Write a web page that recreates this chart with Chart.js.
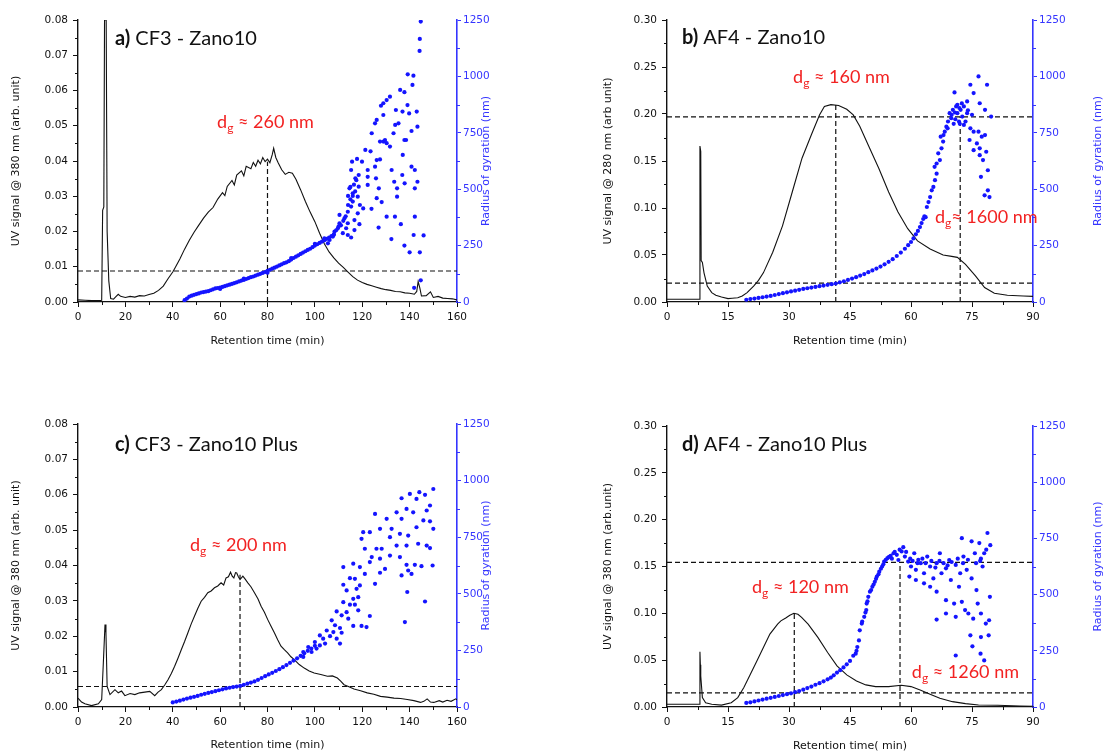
<!DOCTYPE html>
<html>
<head>
<meta charset="utf-8">
<script src="https://cdn.jsdelivr.net/npm/chart.js@4/dist/chart.umd.min.js"></script>
<style>
  body { margin: 0; background: #ffffff; width: 1104px; height: 753px; position: relative; overflow: hidden; }
  .panel { position: absolute; width: 552px; }
  .top { top: 0; height: 376px; }
  .bottom { top: 376px; height: 377px; }
</style>
</head>
<body>
<div class="panel top" style="left:0"><canvas id="chartA"></canvas></div>
<div class="panel top" style="left:552px"><canvas id="chartB"></canvas></div>
<div class="panel bottom" style="left:0"><canvas id="chartC"></canvas></div>
<div class="panel bottom" style="left:552px"><canvas id="chartD"></canvas></div>
<script>
const palette = {
  black: "#111111",
  dots: "#1414ff",
  axisBlue: "#3535ff",
  red: "#f22222"
};

// tick values
const timeTicksCF3 = [0, 20, 40, 60, 80, 100, 120, 140, 160];
const timeTicksAF4 = [0, 15, 30, 45, 60, 75, 90];
const uvTicksCF3 = [0, 0.01, 0.02, 0.03, 0.04, 0.05, 0.06, 0.07, 0.08];
const uvTicksAF4 = [0, 0.05, 0.1, 0.15, 0.2, 0.25, 0.3];
const rgTicks = [0, 250, 500, 750, 1000, 1250];

// a) CF3 - Zano10 : UV signal [min, signal]
const uvA = [[0,0.0006],[3,0.0005],[6,0.0004],[9,0.0004],[10,0.0005],[10.4,0.026],[10.9,0.027],[11.2,0.08],[11.9,0.08],[12.3,0.02],[13,0.006],[13.8,0.001],[15,0.0008],[16,0.0015],[17,0.0022],[18,0.0016],[20,0.0013],[22,0.0016],[24,0.0014],[26,0.0018],[28,0.0017],[30,0.0021],[32,0.0025],[34,0.0033],[36,0.0045],[38,0.0066],[40,0.0085],[41,0.0097],[43,0.0122],[45,0.015],[47,0.0175],[49,0.0198],[51,0.0218],[53,0.0238],[55,0.0255],[57,0.0268],[59,0.0292],[61,0.031],[62,0.0302],[63,0.0328],[65,0.0345],[66,0.0332],[67,0.036],[69,0.0372],[70,0.0358],[71,0.0385],[73,0.0378],[74,0.0396],[75,0.0385],[76,0.0402],[77,0.0392],[78,0.041],[79,0.0398],[80,0.0405],[81,0.0395],[82,0.0418],[82.6,0.0436],[83.5,0.041],[84.5,0.0395],[86,0.0375],[87.5,0.0362],[89,0.0368],[90.5,0.0365],[92,0.0348],[94,0.0318],[96,0.0285],[98,0.0255],[100,0.0228],[102,0.0195],[104,0.0165],[106,0.0142],[108,0.0125],[110,0.011],[112,0.0098],[114,0.0085],[116,0.0072],[118,0.0062],[120,0.0055],[122,0.005],[124,0.0046],[126,0.0042],[128,0.0038],[130,0.0035],[132,0.0033],[134,0.003],[136,0.0029],[138,0.0026],[140,0.0025],[142,0.0022],[143,0.003],[143.6,0.0058],[144.3,0.004],[145,0.0017],[147,0.0018],[148.8,0.0029],[150,0.0013],[152,0.0016],[154,0.0011],[156,0.001],[158,0.0009],[160,0.0006]];
// radius of gyration [min, nm]
const rgBandA = [[45,8],[46,15],[47,24],[48,28],[49,32],[50,35],[51,38],[52,42],[53,44],[54,46],[55,48],[56,52],[57,56],[58,60],[59,62],[60,64],[61,67],[62,70],[63,74],[64,77],[65,80],[66,84],[67,87],[68,91],[69,95],[70,98],[71,102],[72,106],[73,110],[74,113],[75,117],[76,121],[77,125],[78,129],[79,133],[80,138],[81,143],[82,148],[83,152],[84,157],[85,162],[86,167],[87,172],[88,176],[89,181],[90,188],[91,195],[92,201],[93,207],[94,213],[95,219],[96,225],[97,231],[98,236],[99,243],[100,250],[101,256],[102,262],[103,268],[104,274],[105,280],[106,286],[107,292],[108,298],[60,58],[70,104],[80,130],[90,195],[100,258],[104,282]];
const rgCloudA = [[144.7,1243],[144.3,1166],[144.2,1113],[139.2,1009],[141.6,1003],[141.2,962],[136,940],[137.8,930],[131.7,910],[130.3,895],[128.9,881],[127.9,870],[134.2,851],[139.1,873],[137,844],[139.8,836],[143,844],[128.9,829],[126.1,807],[125.4,792],[135.3,792],[133.9,785],[143.3,777],[140.8,758],[124,748],[133.2,748],[128.9,711],[130.3,704],[127.5,711],[129.6,718],[131.7,689],[138.5,718],[137.8,718],[121.3,674],[123.5,668],[137.1,652],[117.8,634],[115.7,622],[119.9,622],[126.1,629],[127.5,632],[140.8,600],[142.2,585],[115.3,585],[122.3,585],[125.4,600],[132.4,585],[118.5,563],[122.3,555],[125.8,548],[136.9,563],[117.1,548],[133.5,533],[143.3,533],[137.9,526],[122.3,519],[114.6,504],[118.5,511],[127,504],[134.7,504],[142.2,504],[116,482],[118.1,467],[134.7,467],[126.1,460],[116,445],[128.2,443],[119,430],[115.3,423],[120.4,415],[123.9,413],[113.9,400],[118.1,393],[110.4,386],[130.3,378],[133.8,378],[142.2,378],[112.5,371],[116.7,363],[110.4,349],[113.9,349],[118.8,345],[136.3,345],[109.7,327],[113.2,327],[116.7,319],[126.9,330],[108.3,312],[111.8,305],[113.9,297],[107.6,290],[141.7,297],[145.9,295],[106.2,275],[132.3,279],[115.3,286],[105.5,260],[137.8,250],[140,220],[144.3,220],[144.7,96],[141.9,63],[114,430],[115,455],[116,470],[117,490],[116.5,520],[117.5,540],[115,510],[114,470],[113,380],[111,340],[112,360],[109,318],[108,300],[110,335]];
const levelsA = [0.0088];
const dropsA = [[80, 0.0398]];

// b) AF4 - Zano10
const uvB = [[0,0.003],[4,0.003],[8,0.003],[8.1,0.166],[8.3,0.16],[8.4,0.044],[8.7,0.042],[9.1,0.031],[9.9,0.017],[11,0.01],[12,0.0072],[13.4,0.0054],[15,0.0036],[16,0.004],[17.4,0.0046],[18.5,0.0065],[19.7,0.01],[21.3,0.017],[22.5,0.023],[23.7,0.031],[26,0.053],[28.4,0.081],[30.8,0.117],[33.2,0.153],[35.5,0.178],[37.5,0.199],[38.7,0.208],[40.3,0.21],[42.2,0.209],[44.2,0.205],[45.8,0.199],[47.4,0.187],[49.7,0.165],[52.1,0.142],[54.5,0.117],[56.8,0.0957],[59.2,0.078],[61.6,0.065],[64.7,0.0564],[67.9,0.05],[70,0.0485],[71.4,0.0475],[73.4,0.04],[75.8,0.028],[78.1,0.0154],[80.5,0.0093],[83.7,0.0071],[87.6,0.0064],[90,0.006]];
const rgBandB = [[19.5,10],[20.5,13],[21.5,15],[22.5,18],[23.5,21],[24.5,24],[25.5,27],[26.5,31],[27.5,35],[28.5,39],[29.5,43],[30.5,47],[31.5,50],[32.5,54],[33.5,58],[34.5,61],[35.5,64],[36.5,67],[37.5,70],[38.5,73],[39.5,76],[40.5,79],[41.5,82],[42.5,87],[43.5,92],[44.5,98],[45.5,104],[46.5,110],[47.5,117],[48.5,124],[49.5,132],[50.5,140],[51.5,148],[52.5,157],[53.5,167],[54.5,178],[55.5,190],[56.5,204],[57.5,219],[58.5,236],[59.3,252],[60,266],[60.6,282],[61.2,300],[61.7,315],[62.2,332],[62.6,350],[63,368],[63.3,380]];
const rgCloudB = [[63.6,376],[63.9,421],[64.3,443],[64.7,465],[65.1,495],[65.5,510],[65.9,540],[66.3,569],[65.8,599],[66.3,614],[67.1,629],[66.7,659],[67.5,681],[67.9,711],[67.3,733],[68.3,755],[68.7,777],[69.1,800],[69.5,837],[70.3,852],[69.9,815],[71.1,867],[71.4,837],[72.2,852],[72.6,822],[73,867],[73.4,800],[73.8,837],[70.7,929],[74.6,963],[75.4,926],[76.6,1000],[78.7,963],[76.9,881],[78.2,852],[79.7,822],[74.6,770],[75.4,755],[76.6,755],[77.4,733],[78.2,740],[74.4,718],[76.2,703],[76.9,681],[75.4,673],[78.5,666],[76.9,651],[77.7,629],[78.9,584],[77.2,555],[78.9,495],[78.1,473],[79.3,465],[71.4,874],[73,785],[71.8,800],[73.8,889],[70.8,840],[72.5,880],[71.9,860],[70,830],[70.9,810],[72,790],[74,850],[75,830],[68,740],[69,770],[70.5,790]];
const levelsB = [0.197, 0.02];
const dropsB = [[41.5, 0.21], [72.1, 0.197]];

// c) CF3 - Zano10 Plus
const uvC = [[0,0.0025],[1.5,0.0014],[2.9,0.0009],[5.7,0.0004],[8.6,0.0009],[10,0.0021],[10.7,0.0125],[11.4,0.0233],[11.8,0.021],[12.3,0.0058],[13.5,0.0035],[15.6,0.0049],[17,0.004],[18.4,0.0045],[19.8,0.0032],[22,0.0038],[24,0.0035],[26,0.004],[28.2,0.0042],[30.3,0.0044],[32.4,0.0032],[33.8,0.0042],[35.2,0.0049],[36.6,0.0062],[38,0.0077],[39.4,0.0095],[40.8,0.0115],[42.2,0.0138],[43.6,0.0162],[45,0.0185],[46.4,0.021],[47.8,0.0235],[49.2,0.0257],[50.6,0.0279],[52,0.0299],[53.4,0.031],[54.8,0.0323],[56.2,0.0328],[57.6,0.0337],[59,0.0342],[60.4,0.0351],[61.5,0.0345],[62.5,0.0365],[63.5,0.0368],[64.4,0.0381],[65.1,0.037],[65.8,0.0365],[66.5,0.038],[67,0.0379],[67.7,0.0368],[68.4,0.036],[69.6,0.037],[70.5,0.0362],[71.7,0.0351],[73,0.034],[74.5,0.0323],[76,0.0305],[77.3,0.0285],[78.7,0.0268],[80.1,0.0247],[81.5,0.0228],[82.9,0.021],[84.3,0.019],[85.7,0.0172],[87.1,0.0162],[88.5,0.0153],[89.9,0.0142],[91.3,0.0134],[93.4,0.012],[95.5,0.011],[97.6,0.0102],[99.7,0.0096],[102.5,0.0092],[105.3,0.0087],[107.4,0.0088],[109.5,0.0082],[110.9,0.0073],[112.3,0.0063],[114.4,0.0057],[116.5,0.0051],[119.3,0.0046],[122.1,0.004],[124.9,0.0036],[127.7,0.003],[130.5,0.0028],[133.4,0.0025],[136.2,0.0024],[139,0.0021],[141.8,0.0018],[144.6,0.0013],[146,0.0016],[147.4,0.0023],[148.8,0.0014],[150.2,0.0013],[152.5,0.0018],[154,0.0014],[155.8,0.0019],[157.5,0.0016],[159.5,0.0023],[160,0.002]];
const rgBandC = [[40,20],[41.5,24],[43,28],[44.5,33],[46,37],[47.5,41],[49,45],[50.5,49],[52,54],[53.5,58],[55,62],[56.5,66],[58,70],[59.5,74],[61,78],[62.5,82],[64,85],[65.5,88],[67,90],[68.5,93],[70,98],[71.5,103],[73,108],[74.5,113],[76,120],[77.5,128],[79,136],[80.5,144],[82,151],[83.5,159],[85,167],[86.5,176],[88,185],[89.5,195],[91,205],[92.5,215],[94,226],[95.5,237],[97,248],[98.5,258],[100,270]];
const rgCloudC = [[150,963],[144.1,949],[140.1,941],[146.5,937],[136.6,922],[142.9,919],[148.6,890],[147.2,868],[138.7,875],[141.5,860],[134.5,860],[125.4,853],[130.3,831],[136.6,831],[145.8,824],[148.6,820],[127.5,787],[120.4,772],[123.2,772],[132.4,787],[142.9,794],[150,787],[135.9,765],[131.7,750],[139.4,757],[119.7,743],[134.5,713],[147.2,713],[143.6,721],[138.7,713],[121.1,699],[126,699],[128.2,699],[124,662],[131.7,669],[135.9,662],[148.6,702],[127.5,655],[116.2,633],[119,618],[123.2,640],[129.6,610],[138.7,628],[142.2,628],[145,622],[149.7,625],[112,618],[139.4,603],[121.1,588],[127.5,593],[136.6,581],[140.8,588],[116.9,566],[114.8,569],[125.4,544],[112,540],[119,537],[117.6,522],[113.4,515],[139,508],[118.3,485],[116.2,478],[146.5,466],[114.8,452],[116.9,452],[112,463],[109.2,422],[113.4,419],[118.3,427],[123.2,402],[111.3,405],[107.1,383],[114.1,390],[138,375],[108.5,361],[116.2,358],[119.7,358],[121.8,353],[110.6,349],[105,338],[107.8,331],[111.3,328],[102.1,316],[106.4,313],[103.5,302],[109.2,302],[100,287],[104.3,280],[110.6,280],[97.2,265],[100.7,258],[95.1,243],[98.6,243],[102.1,272],[95.1,221]];
const levelsC = [0.0058];
const dropsC = [[68.4, 0.0374]];

// d) AF4 - Zano10 Plus
const uvD = [[0,0.003],[4,0.003],[7.9,0.003],[8.1,0.059],[8.2,0.045],[8.3,0.033],[8.7,0.01],[9.5,0.0046],[11,0.0029],[13.4,0.002],[15.8,0.0046],[17.4,0.01],[18.9,0.0207],[20.5,0.035],[22.1,0.049],[23.7,0.0635],[25.3,0.0778],[27.2,0.0885],[28,0.092],[29.2,0.095],[30.2,0.098],[31.2,0.1],[32.2,0.099],[33.1,0.0957],[34.7,0.0885],[37.1,0.0743],[39.5,0.0582],[41.8,0.0439],[44.2,0.0343],[46.6,0.0278],[48.9,0.0236],[51.3,0.0218],[54.5,0.0218],[57.6,0.0232],[60,0.0218],[62.4,0.0179],[64.7,0.0136],[67.1,0.0093],[70.2,0.0057],[73.4,0.0036],[76.6,0.0021],[81.3,0.0018],[86.8,0.0011],[90,0.0008]];
const rgBandD = [[19.5,18],[20.5,21],[21.5,25],[22.5,29],[23.5,33],[24.5,37],[25.5,41],[26.5,45],[27.5,49],[28.5,53],[29.5,57],[30.5,61],[31.5,66],[32.5,71],[33.5,77],[34.5,84],[35.5,91],[36.5,99],[37.5,106],[38.5,114],[39.5,123],[40.3,131],[41,141],[41.8,153],[42.6,164],[43.4,176],[44.2,190],[45,205],[45.8,228],[46.6,250]];
const rgCloudD = [[46.4,237],[46.8,267],[47.2,296],[47.4,341],[47.9,371],[48.5,401],[49,431],[49.1,460],[49.5,490],[49.9,513],[50.5,535],[51.1,557],[51.6,580],[52.2,602],[52.9,625],[53.4,647],[54.2,662],[55,672],[55.7,684],[56.5,677],[56.9,654],[57.7,692],[58.5,669],[58.1,711],[59.3,647],[60,625],[60.8,684],[61.2,610],[62.4,640],[63.2,595],[64,669],[64.7,625],[65.5,572],[66.3,640],[67.1,684],[67.5,595],[68.6,617],[69.4,654],[69.8,565],[71,632],[71.8,535],[72.1,595],[72.9,669],[73.7,610],[74.9,572],[75.7,684],[76.1,520],[76.8,729],[77.6,625],[78,684],[78.8,774],[72.5,751],[74.9,737],[77.2,660],[68.6,475],[70.6,460],[72.5,468],[73.3,431],[74.1,416],[76.4,460],[77.2,416],[75.3,393],[66.3,389],[68.6,416],[71,401],[78.4,371],[74.6,319],[77.2,311],[79.1,319],[75.1,270],[77.1,237],[71,229],[78,207],[66.3,513],[64.7,535],[63.2,550],[61.2,565],[59.6,580],[61.6,640],[79.4,490],[79.2,386],[48,380],[48.8,420],[49.3,470],[50.2,520],[50.8,545],[51.4,570],[52,590],[52.6,615],[53.2,635],[53.8,655],[54.6,668],[55.3,660],[56,690],[57.2,700],[58.8,690],[59.8,660],[60.4,650],[61.8,655],[62.8,660],[63.6,640],[65,650],[66,620],[67,650],[68,640],[69,630],[70,645],[71.5,660],[72.8,640],[74,655],[76,640],[77,650],[78.5,700],[79.5,720]];
const levelsD = [0.1545, 0.015];
const dropsD = [[31.3, 0.1], [57.3, 0.1545]];

const sansFont = "'DejaVu Sans', sans-serif";
const calibriLike = "Lato, 'Open Sans', sans-serif";

const toPoints = (rows) => rows.map(([x, y]) => ({ x, y }));

// short unlabeled ticks halfway between the labeled ones
const minorTicks = {
  id: "minorTicks",
  afterDraw(chart) {
    const { ctx, chartArea, scales } = chart;
    ctx.save();
    ctx.lineWidth = 1;
    Object.values(scales).forEach((scale) => {
      const values = scale.ticks.map((t) => t.value);
      ctx.strokeStyle = scale.options.border.color;
      for (let i = 0; i < values.length - 1; i++) {
        const p = Math.round(scale.getPixelForValue((values[i] + values[i + 1]) / 2)) + 0.5;
        ctx.beginPath();
        if (scale.axis === "x") {
          ctx.moveTo(p, chartArea.bottom);
          ctx.lineTo(p, chartArea.bottom + 3);
        } else if (scale.position === "left") {
          ctx.moveTo(chartArea.left, p);
          ctx.lineTo(chartArea.left - 3, p);
        } else {
          ctx.moveTo(chartArea.right, p);
          ctx.lineTo(chartArea.right + 3, p);
        }
        ctx.stroke();
      }
    });
    ctx.restore();
  }
};

// panel heading, d_g notes and the right axis title (reads bottom to top)
const panelLabels = {
  id: "panelLabels",
  afterDraw(chart, _args, opts) {
    const { ctx, chartArea, scales } = chart;
    ctx.save();
    ctx.textBaseline = "middle";
    ctx.textAlign = "left";

    let x = chartArea.left + opts.headDx;
    const y = chartArea.top + opts.headDy;
    ctx.fillStyle = palette.black;
    ctx.font = `bold 20px ${calibriLike}`;
    ctx.fillText(opts.tag, x, y);
    x += ctx.measureText(opts.tag).width + 5;
    ctx.font = `20px ${calibriLike}`;
    ctx.fillText(opts.heading, x, y);

    ctx.fillStyle = palette.red;
    opts.notes.forEach(([t, v, text]) => {
      let nx = scales.x.getPixelForValue(t);
      const ny = scales.y.getPixelForValue(v);
      ctx.font = `18px ${calibriLike}`;
      ctx.fillText("d", nx, ny);
      nx += ctx.measureText("d").width;
      ctx.font = `12px ${calibriLike}`;
      ctx.fillText("g", nx, ny + 6);
      nx += ctx.measureText("g").width;
      ctx.font = `18px ${calibriLike}`;
      ctx.fillText(text, nx, ny);
    });

    ctx.translate(chartArea.right + opts.rightDx, (chartArea.top + chartArea.bottom) / 2);
    ctx.rotate(-Math.PI / 2);
    ctx.textAlign = "center";
    ctx.font = `11px ${sansFont}`;
    ctx.fillStyle = palette.axisBlue;
    ctx.fillText("Radius of gyration (nm)", 0, 0);
    ctx.restore();
  }
};

const dashedLine = (rows) => ({
  type: "line",
  data: toPoints(rows),
  borderColor: palette.black,
  borderWidth: 1.2,
  borderDash: [5, 3],
  pointRadius: 0,
  yAxisID: "y",
  order: 3
});

const buildPanel = (canvasId, cfg) => {
  const guides = [
    ...cfg.levels.map((h) => dashedLine([[0, h], [cfg.xMax, h]])),
    ...cfg.drops.map(([t, top]) => dashedLine([[t, 0], [t, top]]))
  ];

  return new Chart(document.getElementById(canvasId), {
    type: "line",
    data: {
      datasets: [
        {
          type: "scatter",
          data: toPoints([...cfg.band, ...cfg.cloud]),
          backgroundColor: palette.dots,
          borderWidth: 0,
          pointRadius: 2.1,
          yAxisID: "y1",
          order: 1
        },
        {
          type: "line",
          data: toPoints(cfg.uv),
          borderColor: palette.black,
          borderWidth: 1.1,
          pointRadius: 0,
          tension: 0,
          yAxisID: "y",
          order: 2
        },
        ...guides
      ]
    },
    options: {
      responsive: true,
      maintainAspectRatio: false,
      animation: false,
      layout: { padding: { top: cfg.box.top, left: 0, right: 0, bottom: 0 } },
      plugins: {
        legend: { display: false },
        tooltip: { enabled: false },
        panelLabels: {
          tag: cfg.tag,
          heading: cfg.heading,
          notes: cfg.notes,
          headDx: cfg.box.headDx,
          headDy: cfg.box.headDy,
          rightDx: cfg.box.rightDx
        }
      },
      scales: {
        x: {
          type: "linear",
          min: 0,
          max: cfg.xMax,
          afterBuildTicks: (scale) => { scale.ticks = cfg.xTicks.map((value) => ({ value })); },
          afterFit: (scale) => { scale.height = cfg.box.bottom; },
          ticks: { color: palette.black, font: { family: sansFont, size: 10.5 }, padding: 4, maxRotation: 0, autoSkip: false, callback: (v) => String(v) },
          grid: { drawOnChartArea: false, tickLength: 5, tickColor: palette.black },
          border: { color: palette.black, width: 1.2 },
          title: {
            display: true,
            text: cfg.xTitle,
            color: palette.black,
            font: { family: sansFont, size: 11 },
            padding: { top: 0, bottom: cfg.box.xTitlePad }
          }
        },
        y: {
          position: "left",
          min: 0,
          max: cfg.yMax,
          afterBuildTicks: (scale) => { scale.ticks = cfg.yTicks.map((value) => ({ value })); },
          afterFit: (scale) => { scale.width = cfg.box.left; },
          ticks: { color: palette.black, font: { family: sansFont, size: 10.5 }, padding: 5, callback: (v) => v.toFixed(2) },
          grid: { drawOnChartArea: false, tickLength: 5, tickColor: palette.black },
          border: { color: palette.black, width: 1.4 },
          title: {
            display: true,
            text: cfg.yTitle,
            color: palette.black,
            font: { family: sansFont, size: 11 },
            padding: { top: cfg.box.yTitlePad, bottom: 0 }
          }
        },
        y1: {
          position: "right",
          min: 0,
          max: 1250,
          afterBuildTicks: (scale) => { scale.ticks = rgTicks.map((value) => ({ value })); },
          afterFit: (scale) => { scale.width = cfg.box.right; },
          ticks: { color: palette.axisBlue, font: { family: sansFont, size: 10.5 }, padding: 2, callback: (v) => String(v) },
          grid: { drawOnChartArea: false, tickLength: 4, tickColor: palette.axisBlue },
          border: { color: palette.axisBlue, width: 1.6 }
        }
      }
    },
    plugins: [minorTicks, panelLabels]
  });
};

const cf3Box = { left: 78, right: 95, headDx: 37, yTitlePad: 10, rightDx: 29 };
const af4Box = { left: 115, right: 71, headDx: 15, yTitlePad: 50, rightDx: 65 };

buildPanel("chartA", {
  tag: "a)", heading: "CF3 - Zano10",
  uv: uvA, band: rgBandA, cloud: rgCloudA, levels: levelsA, drops: dropsA,
  notes: [[58.7, 0.051, " \u2248 260 nm"]],
  xMax: 160, yMax: 0.08, xTicks: timeTicksCF3, yTicks: uvTicksCF3,
  xTitle: "Retention time (min)", yTitle: "UV signal @ 380 nm (arb. unit)",
  box: { ...cf3Box, top: 20, bottom: 74, xTitlePad: 28, headDy: 19 }
});

buildPanel("chartB", {
  tag: "b)", heading: "AF4 - Zano10",
  uv: uvB, band: rgBandB, cloud: rgCloudB, levels: levelsB, drops: dropsB,
  notes: [[31, 0.239, " \u2248 160 nm"], [65.9, 0.09, "\u2248 1600 nm"]],
  xMax: 90, yMax: 0.3, xTicks: timeTicksAF4, yTicks: uvTicksAF4,
  xTitle: "Retention time (min)", yTitle: "UV signal @ 280 nm (arb unit)",
  box: { ...af4Box, top: 20, bottom: 74, xTitlePad: 28, headDy: 18 }
});

buildPanel("chartC", {
  tag: "c)", heading: "CF3 - Zano10 Plus",
  uv: uvC, band: rgBandC, cloud: rgCloudC, levels: levelsC, drops: dropsC,
  notes: [[47.3, 0.0458, " \u2248 200 nm"]],
  xMax: 160, yMax: 0.08, xTicks: timeTicksCF3, yTicks: uvTicksCF3,
  xTitle: "Retention time (min)", yTitle: "UV signal @ 380 nm (arb. unit)",
  box: { ...cf3Box, top: 48, bottom: 46, xTitlePad: 1, headDy: 21 }
});

buildPanel("chartD", {
  tag: "d)", heading: "AF4 - Zano10 Plus",
  uv: uvD, band: rgBandD, cloud: rgCloudD, levels: levelsD, drops: dropsD,
  notes: [[20.9, 0.128, " \u2248 120 nm"], [60.2, 0.0377, " \u2248 1260 nm"]],
  xMax: 90, yMax: 0.3, xTicks: timeTicksAF4, yTicks: uvTicksAF4,
  xTitle: "Retention time( min)", yTitle: "UV signal @ 380 nm (arb.unit)",
  box: { ...af4Box, top: 50, bottom: 46, xTitlePad: 0, headDy: 19 }
});
</script>
</body>
</html>
